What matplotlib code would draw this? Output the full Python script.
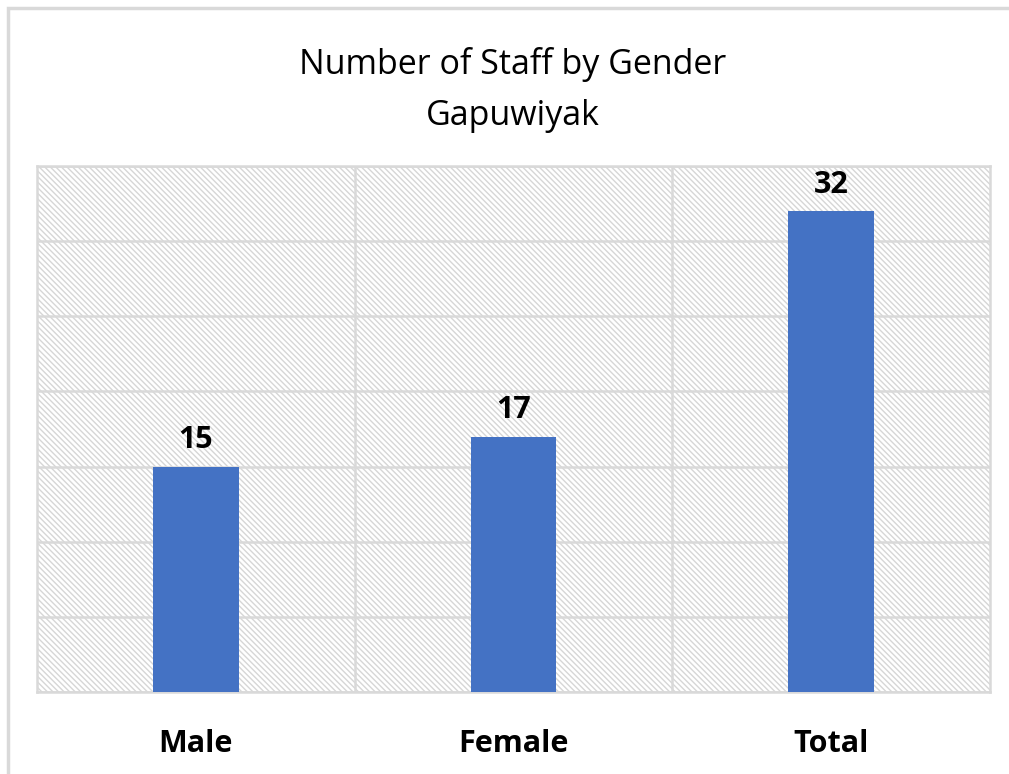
import matplotlib.pyplot as plt
from matplotlib.patches import Rectangle

plt.rcParams['font.family'] = ['Open Sans', 'DejaVu Sans']
plt.rcParams['hatch.linewidth'] = 1.0

categories = ['Male', 'Female', 'Total']
staff = [15, 17, 32]

fig = plt.figure(figsize=(10.09, 7.74), dpi=100)
ax = fig.add_axes([0.0367, 0.106, 0.9445, 0.6795])

# outer chart border (only left/top visible in the reference)
fig.patches.append(Rectangle((0.008, -0.05), 1.1, 1.04,
                             transform=fig.transFigure, fill=False,
                             edgecolor='#d9d9d9', linewidth=2.5, zorder=0))

# hatched plot area background
ax.add_patch(Rectangle((0, 0), 1, 1, transform=ax.transAxes, facecolor='white',
                       edgecolor='#d6d6d6', linewidth=0, hatch='\\\\\\\\\\\\', zorder=0))

x = range(len(categories))
bars = ax.bar(x, staff, width=0.27, color='#4472C4', zorder=3)
for b, v in zip(bars, staff):
    ax.annotate(str(v), (b.get_x() + b.get_width() / 2, v), xytext=(0, 8),
                textcoords='offset points', ha='center', va='bottom',
                fontsize=22, fontweight='bold')

ax.set_xlim(-0.5, 2.5)
ax.set_ylim(0, 35)
ax.set_yticks(range(0, 36, 5))
ax.set_yticklabels([])
ax.set_xticks(list(x))
ax.set_xticklabels(categories, fontsize=22, fontweight='bold')
ax.set_xticks([0.5, 1.5], minor=True)
ax.tick_params(axis='both', which='both', length=0)
ax.tick_params(axis='x', pad=27)
ax.grid(True, which='major', axis='y', color='#d9d9d9', linewidth=1.8, zorder=1)
ax.grid(True, which='minor', axis='x', color='#d9d9d9', linewidth=1.8, zorder=1)
ax.set_axisbelow(True)
for s in ax.spines.values():
    s.set_color('#d9d9d9')
    s.set_linewidth(1.8)

fig.text(0.508, 0.917, 'Number of Staff by Gender', ha='center', va='center', fontsize=24.5)
fig.text(0.508, 0.850, 'Gapuwiyak', ha='center', va='center', fontsize=24.5)

fig.savefig('out.png', dpi=100)
